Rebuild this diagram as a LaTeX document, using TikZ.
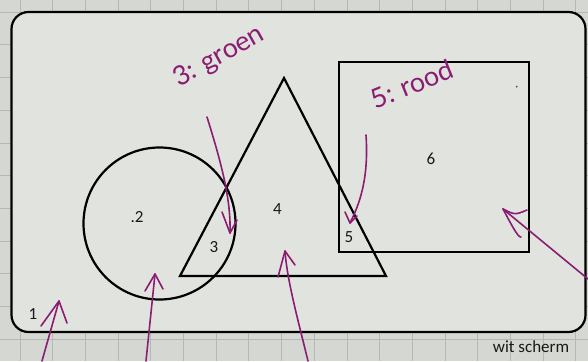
\documentclass[tikz,border=0pt]{standalone}
\usepackage{fontspec}
\setmainfont{Carlito}
\newfontfamily\handfont{Lato}
\definecolor{paper}{HTML}{D5D8D2}
\definecolor{sheet}{HTML}{E1E3DE}
\definecolor{gridc}{HTML}{B4B7B2}
\definecolor{pencol}{HTML}{8A1C72}
\begin{document}
\begin{tikzpicture}[x=1pt,y=-1pt,
  shapeline/.style={draw=black, line width=2.2pt, line join=miter},
  pen/.style={draw=pencol, line width=1.6pt, line cap=round, line join=round},
  lbl/.style={font=\fontsize{17}{20}\selectfont, inner sep=0pt, text=black!90},
  hand/.style={text=pencol, font=\handfont\fontsize{27}{30}\selectfont, inner sep=0pt}]
\useasboundingbox (0,0) rectangle (588,361);
\fill[paper] (0,0) rectangle (588,361);
\foreach \i in {0,...,17} \draw[gridc, line width=1pt] ({20+32.7*\i},0) -- ({20+32.7*\i},361);
\foreach \j in {0,...,10} \draw[gridc, line width=1pt] (0,{12.3+32.7*\j}) -- (588,{12.3+32.7*\j});
% screen
\node[draw=black, line width=2.2pt, fill=sheet, rounded corners=17pt, minimum width=574pt, minimum height=320pt, inner sep=0pt] (screen) at (298.5,172) {};
% shapes
\node[circle, draw=black, line width=2.2pt, minimum size=152pt, inner sep=0pt] (circ) at (159.5,223.5) {};
\coordinate (ta) at (284,78);
\coordinate (tl) at (180,276);
\coordinate (tr) at (386,276);
\draw[shapeline] (ta) -- (tl) -- (tr) -- cycle;
\node[draw=black, line width=2.2pt, minimum width=189.4pt, minimum height=189.4pt, inner sep=0pt] (sq) at (434,157) {};
\fill[black!70] (516.7,86.7) circle (1pt);
% labels
\node[lbl] (l1) at (33,314) {1};
\node[lbl] (l2) at (137,217) {.2};
\node[lbl] (l3) at (214,247) {3};
\node[lbl] (l4) at (277.5,209) {4};
\node[lbl] (l5) at (349,237) {5};
\node[lbl] (l6) at (431,159) {6};
\node[lbl] (ws) at (531,347) {wit scherm};
% handwritten notes
\node[hand, rotate=29] (groen) at (219,57) {3: groen};
\node[hand, rotate=22] (rood) at (412,84) {5: rood};
% arrow to 3
\coordinate (g0) at (207,117);
\coordinate (gt) at (230,233);
\coordinate (gl) at (222,212);
\coordinate (gr) at (237,220);
\draw[pen] (g0) .. controls (222,165) and (231,200) .. (gt);
\draw[pen] (gl) -- (gt) -- (gr);
% arrow to 5
\coordinate (r0) at (366,135);
\coordinate (rt) at (350,223);
\coordinate (rl) at (345,212);
\coordinate (rr) at (357,216);
\draw[pen] (r0) .. controls (369,180) and (359,205) .. (rt);
\draw[pen] (rl) -- (rt) -- (rr);
% arrow 1
\coordinate (o0) at (42,361);
\coordinate (ot) at (59,301);
\coordinate (ol) at (41,326);
\coordinate (or) at (67,323);
\draw[pen] (o0) -- (ot);
\draw[pen] (ol) -- (ot) -- (or);
% arrow 2 (circle)
\coordinate (c0) at (146,361);
\coordinate (ct) at (155,274);
\coordinate (cl) at (145,291);
\coordinate (cr) at (163,289);
\draw[pen] (c0) -- (ct);
\draw[pen] (cl) -- (ct) -- (cr);
% arrow 4 (triangle)
\coordinate (t0) at (308,361);
\coordinate (tt) at (285,251);
\coordinate (tlb) at (278,277);
\coordinate (trb) at (295,265);
\draw[pen] (t0) .. controls (298,320) and (287,280) .. (tt);
\draw[pen] (tlb) -- (tt) -- (trb);
% arrow 6 (square)
\coordinate (s0) at (588,279);
\coordinate (st) at (503,209);
\coordinate (sa) at (527,210);
\coordinate (sb) at (521,237);
\draw[pen] (s0) -- (st);
\draw[pen] (st) .. controls (515,215) .. (sa);
\draw[pen] (st) .. controls (510,222) and (518,238) .. (sb);
\end{tikzpicture}
\end{document}
